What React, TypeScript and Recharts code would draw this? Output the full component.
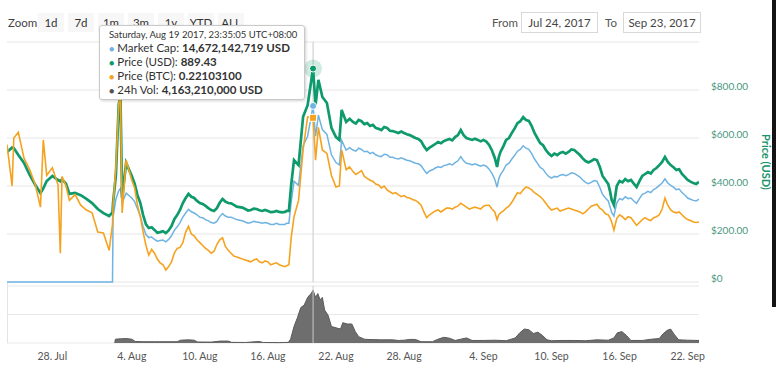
import React from 'react';
import {
  LineChart,
  Line,
  XAxis,
  YAxis,
  CartesianGrid,
  ReferenceLine,
  ReferenceDot,
  AreaChart,
  Area,
} from 'recharts';

// ---- data (x = days since Jul 24, 2017) ----
const days = [
  // launch period
  0, 0.45, 0.6, 1, 1.5, 2, 2.5, 2.95, 3.2, 3.5, 4, 4.5, 4.7, 4.85, 5.2, 5.5, 6, 6.5, 7, 7.5,
  8, 8.5, 9, 9.3, 9.35, 9.6, 9.85, 10, 10.15, 10.5,
  // August slump
  11, 11.25, 11.5, 11.75, 12, 12.25, 12.5, 12.75, 13, 13.25, 13.5, 13.75, 14, 14.25, 14.5, 14.75,
  15, 15.25, 15.5, 15.75, 16, 16.25, 16.5, 16.75, 17, 17.25, 17.5, 17.75, 18, 18.25, 18.5, 18.75,
  19, 19.25, 19.5, 19.75, 20, 20.25, 20.5, 20.75, 21, 21.25, 21.5, 21.75, 22, 22.25, 22.5, 22.75,
  23, 23.25, 23.5, 23.75, 24, 24.25, 24.5, 24.65, 24.85,
  // rally
  25.05, 25.3, 25.7, 26.1, 26.5, 26.98, 27.2, 27.45, 27.8, 28.2, 28.6, 29, 29.3, 29.5, 29.9,
  // September
  30.2, 30.5, 30.75, 31, 31.25, 31.5, 31.75, 32, 32.25, 32.5, 32.75, 33, 33.25, 33.5, 33.75, 34,
  34.25, 34.5, 34.75, 35, 35.25, 35.5, 35.75, 36, 36.25, 36.5, 36.75, 37, 37.25, 37.5, 37.75, 38,
  38.25, 38.5, 38.75, 39, 39.25, 39.5, 39.75, 40, 40.25, 40.5, 40.75, 41, 41.25, 41.5, 41.75, 42,
  42.25, 42.5, 42.75, 43, 43.2, 43.35, 43.5, 43.75, 44, 44.25, 44.5, 44.75, 45, 45.25, 45.5, 45.75,
  46, 46.25, 46.5, 46.75, 47, 47.25, 47.5, 47.75, 48, 48.25, 48.5, 48.75, 49, 49.25, 49.5, 49.75,
  50, 50.25, 50.5, 50.75, 51, 51.25, 51.5, 51.75, 52, 52.25, 52.5, 52.75, 53, 53.15, 53.3, 53.5,
  53.75, 54, 54.25, 54.5, 54.75, 55, 55.25, 55.5, 55.75, 56, 56.25, 56.5, 56.75, 57, 57.25, 57.5,
  57.75, 58, 58.25, 58.5, 58.75, 59, 59.25, 59.5, 59.75, 60, 60.25, 60.5, 60.75, 61,
];

const priceUsd = [
  542, 560, 558, 529, 496, 446, 404, 370, 390, 421, 442, 425, 420, 428, 410, 367, 371, 362, 346, 329,
  304, 287, 275, 290, 330, 446, 740, 775, 350, 496,
  442, 410, 362, 330, 279, 240, 225, 228, 217, 205, 208, 212, 204, 215, 233, 262,
  279, 300, 329, 350, 367, 355, 350, 338, 329, 325, 317, 308, 300, 296, 308, 330,
  346, 335, 329, 328, 321, 314, 312, 310, 304, 298, 300, 306, 304, 299, 296, 300,
  296, 291, 292, 296, 292, 290, 292, 296, 296,
  404, 508, 487, 688, 737, 889.43, 737, 842, 771, 746, 642, 604, 592, 717, 667,
  680, 667, 660, 675, 670, 658, 662, 650, 655, 642, 638, 633, 646, 642, 630, 629,
  625, 621, 627, 621, 616, 612, 606, 600, 596, 587, 566, 550, 560, 567, 575, 583,
  578, 587, 592, 596, 590, 604, 612, 633, 612, 600, 596, 592, 597, 592, 586, 592,
  585, 571, 548, 517, 479, 520, 542, 565, 592, 600, 621, 640, 662, 670, 687, 675,
  671, 650, 621, 600, 579, 570, 550, 535, 525, 535, 529, 538, 542, 535, 542, 552,
  550, 540, 529, 515, 504, 498, 504, 512, 508, 480, 442, 425, 408, 380, 342, 321,
  400, 421, 415, 429, 420, 425, 410, 396, 420, 442, 450, 458, 452, 467, 475, 487,
  500, 521, 500, 487, 478, 467, 470, 450, 438, 425, 418, 412, 408, 417,
];

const marketCapB = [
  0, 0, 0, 0, 0, 0, 0, 0, 0, 0, 0, 0, 0, 0, 0, 0, 0, 0, 0, 0,
  0, 0, 0, 0, 5.4, 6.9, 7.6, 7.8, 6.6, 7.4,
  7.0, 6.7, 6.1, 5.5, 4.6, 3.95, 3.7, 3.75, 3.55, 3.4, 3.45, 3.5, 3.35, 3.55, 3.85, 4.3,
  4.6, 4.95, 5.4, 5.75, 6.05, 5.85, 5.75, 5.6, 5.4, 5.35, 5.2, 5.1, 4.95, 4.9, 5.05, 5.45,
  5.7, 5.5, 5.4, 5.4, 5.3, 5.2, 5.15, 5.1, 5.0, 4.9, 4.95, 5.05, 5.0, 4.95, 4.9, 4.95,
  4.9, 4.8, 4.8, 4.9, 4.8, 4.8, 4.8, 4.9, 4.9,
  6.65, 8.4, 8.05, 11.35, 12.15, 14.672, 12.15, 13.9, 12.7, 12.3, 10.6, 9.95, 9.75, 11.8, 11.0,
  11.2, 11.0, 10.9, 11.15, 11.05, 10.85, 10.9, 10.7, 10.8, 10.6, 10.5, 10.45, 10.65, 10.6, 10.4, 10.4,
  10.3, 10.25, 10.35, 10.25, 10.15, 10.1, 10.0, 9.9, 9.85, 9.7, 9.35, 9.05, 9.25, 9.35, 9.5, 9.6,
  9.55, 9.7, 9.75, 9.85, 9.75, 9.95, 10.1, 10.45, 10.1, 9.9, 9.85, 9.75, 9.85, 9.75, 9.65, 9.75,
  9.65, 9.4, 9.05, 8.55, 7.9, 8.6, 8.95, 9.3, 9.75, 9.9, 10.25, 10.55, 10.9, 11.05, 11.35, 11.15,
  11.05, 10.7, 10.25, 9.9, 9.55, 9.4, 9.05, 8.8, 8.65, 8.8, 8.75, 8.9, 8.95, 8.85, 8.95, 9.1,
  9.05, 8.9, 8.75, 8.5, 8.3, 8.2, 8.3, 8.45, 8.4, 7.9, 7.3, 7.0, 6.75, 6.3, 5.8, 5.5,
  6.6, 6.95, 6.85, 7.1, 6.95, 7.0, 6.75, 6.55, 6.95, 7.3, 7.4, 7.55, 7.45, 7.7, 7.85, 8.05,
  8.25, 8.6, 8.25, 8.05, 7.9, 7.7, 7.75, 7.45, 7.25, 7.0, 6.9, 6.8, 6.75, 6.9,
];

const priceBtc = [
  0.193, 0.15, 0.2, 0.206, 0.179, 0.167, 0.151, 0.128, 0.198, 0.161, 0.169, 0.151, 0.08, 0.16, 0.15, 0.135, 0.141, 0.13, 0.125, 0.122,
  0.102, 0.101, 0.083, 0.11, 0.13, 0.17, 0.235, 0.246, 0.122, 0.177,
  0.156, 0.148, 0.13, 0.118, 0.102, 0.088, 0.078, 0.084, 0.08, 0.074, 0.07, 0.068, 0.0625, 0.066, 0.071, 0.08,
  0.085, 0.086, 0.091, 0.102, 0.108, 0.1, 0.098, 0.094, 0.091, 0.088, 0.085, 0.083, 0.08, 0.082, 0.089, 0.094,
  0.096, 0.087, 0.083, 0.08, 0.077, 0.076, 0.075, 0.074, 0.073, 0.072, 0.071, 0.073, 0.074, 0.071, 0.07, 0.072,
  0.071, 0.068, 0.069, 0.07, 0.068, 0.067, 0.066, 0.067, 0.068,
  0.096, 0.118, 0.135, 0.1875, 0.222, 0.221031, 0.177, 0.211, 0.1875, 0.184, 0.161, 0.149, 0.15, 0.1875, 0.167,
  0.17, 0.165, 0.162, 0.164, 0.166, 0.16, 0.158, 0.156, 0.155, 0.152, 0.151, 0.148, 0.15, 0.146, 0.144, 0.142,
  0.143, 0.141, 0.139, 0.14, 0.138, 0.1375, 0.136, 0.135, 0.133, 0.13, 0.123, 0.117, 0.12, 0.122, 0.124, 0.125,
  0.123, 0.125, 0.127, 0.127, 0.126, 0.128, 0.129, 0.132, 0.13, 0.128, 0.126, 0.127, 0.128, 0.127, 0.126, 0.129,
  0.13, 0.13, 0.126, 0.123, 0.115, 0.12, 0.122, 0.124, 0.127, 0.129, 0.133, 0.138, 0.143, 0.142, 0.146, 0.149,
  0.148, 0.146, 0.143, 0.141, 0.139, 0.136, 0.132, 0.128, 0.125, 0.126, 0.127, 0.124, 0.125, 0.126, 0.127, 0.126,
  0.125, 0.124, 0.123, 0.121, 0.123, 0.126, 0.129, 0.13, 0.131, 0.127, 0.125, 0.121, 0.12, 0.117, 0.1125, 0.104,
  0.116, 0.12, 0.118, 0.115, 0.118, 0.117, 0.113, 0.109, 0.112, 0.115, 0.117, 0.115, 0.114, 0.117, 0.118, 0.12,
  0.126, 0.1375, 0.13, 0.125, 0.123, 0.122, 0.123, 0.12, 0.117, 0.115, 0.114, 0.1125, 0.112, 0.1125,
];

const volDays = [
  9.5, 9.55, 10, 10.5, 11, 11.3, 12, 13, 14, 15,
  15.3, 16, 16.5, 16.8, 18, 18.8, 19.5, 19.8, 21, 22.2,
  22.6, 24, 24.8, 25, 25.3, 25.6, 25.9, 26.2, 26.5, 26.8,
  26.98, 27.2, 27.4, 27.6, 27.8, 28, 28.3, 28.6, 29, 29.4,
  29.6, 30, 30.4, 30.7, 31, 31.5, 32, 33, 34, 34.5,
  35, 35.5, 36, 36.5, 37, 37.5, 38, 38.5, 39, 39.5,
  40, 40.5, 41, 42, 43, 44, 44.8, 45.2, 45.6, 46,
  46.4, 46.8, 47.2, 47.6, 48, 49, 50, 51, 52, 53,
  53.5, 53.8, 54.2, 54.6, 55, 56, 56.8, 57.5, 57.8, 58.2,
  58.5, 58.8, 59.2, 60, 61,
];

const volumeB = [
  0, 0.3, 0.33, 0.35, 0.3, 0.12, 0.1, 0.1, 0.1, 0.1,
  0.22, 0.25, 0.22, 0.08, 0.07, 0.15, 0.15, 0.05, 0.04, 0.12,
  0.04, 0.03, 0.05, 0.3, 1.3, 2.0, 2.8, 3.0, 3.6, 3.9,
  4.16, 3.6, 3.9, 3.4, 3.6, 2.6, 2.2, 1.3, 1.2, 1.1,
  1.6, 1.5, 1.5, 0.9, 0.5, 0.3, 0.27, 0.25, 0.25, 0.2,
  0.22, 0.28, 0.28, 0.1, 0.1, 0.1, 0.3, 0.45, 0.38, 0.2,
  0.3, 0.4, 0.2, 0.2, 0.22, 0.18, 0.4, 0.8, 1.1, 1.05,
  0.75, 0.85, 0.6, 0.25, 0.18, 0.2, 0.2, 0.18, 0.25, 0.22,
  0.4, 0.8, 0.9, 0.6, 0.2, 0.2, 0.3, 0.35, 0.7, 1.0,
  1.1, 0.7, 0.25, 0.22, 0.2,
];

const tickDays = [4, 11, 17, 23, 29, 35, 42, 48, 54, 60];
const tickLabels = ['28. Jul', '4. Aug', '10. Aug', '16. Aug', '22. Aug', '28. Aug', '4. Sep', '10. Sep', '16. Sep', '22. Sep'];
const usdTicks = [0, 200, 400, 600, 800, 1000];
const volTicks = [0, 2.25];
const zoomButtons = ['1d', '7d', '1m', '3m', '1y', 'YTD', 'ALL'];
const hoverDay = 26.98;
const hoverUsd = 889.43;
const hoverCap = 14.672;
const hoverBtc = 0.221031;
const tooltipHeader = 'Saturday, Aug 19 2017, 23:35:05 UTC+08:00';
const tooltipLabels = ['Market Cap', 'Price (USD)', 'Price (BTC)', '24h Vol'];
const tooltipValues = ['14,672,142,719 USD', '889.43', '0.22103100', '4,163,210,000 USD'];
const fromDate = 'Jul 24, 2017';
const toDate = 'Sep 23, 2017';

// ---- styles ----
const FONT = '"Lato", "DejaVu Sans", sans-serif';
const GREEN = '#0e9a6c';
const BLUE = '#6fb3e2';
const ORANGE = '#f5a31f';
const VOLGRAY = '#6e6e6e';
const seriesColors = [BLUE, GREEN, ORANGE, '#555'];

const rows = days.map((t, i) => ({
  t,
  usd: priceUsd[i],
  cap: marketCapB[i],
  btc: priceBtc[i],
}));
const volRows = volDays.map((t, i) => ({ t, vol: volumeB[i] }));

const UsdTick = (props: any) => {
  const { x, y, payload } = props;
  const v = payload.value as number;
  if (v >= 1000) return <g />;
  const label = v === 0 ? '$0' : '$' + v.toFixed(2);
  return (
    <text x={x} y={y - 4} fill="#4a977e" fontSize={10} fontFamily={FONT} textAnchor="start" dominantBaseline="central">
      {label}
    </text>
  );
};

const SquareDot = (props: any) => {
  const { cx, cy } = props;
  return <rect x={cx - 3.5} y={cy - 3.5} width={7} height={7} fill={ORANGE} stroke="#fff" strokeWidth={1} />;
};

export default function App() {
  return (
    <div
      style={{
        position: 'absolute',
        left: 0,
        top: 0,
        width: 776,
        height: 369,
        background: '#fff',
        overflow: 'hidden',
        fontFamily: FONT,
      }}
    >
      {/* range selector */}
      <div style={{ position: 'absolute', left: 8, top: 16, fontSize: 11.5, color: '#444' }}>Zoom</div>
      {zoomButtons.map((b, i) => (
        <div
          key={b}
          style={{
            position: 'absolute',
            left: 38 + i * 30,
            top: 13,
            width: 26,
            height: 19,
            background: '#f7f7f7',
            fontSize: 11.5,
            color: '#333',
            textAlign: 'center',
            lineHeight: '19px',
          }}
        >
          {b}
        </div>
      ))}
      <div style={{ position: 'absolute', left: 492, top: 16, fontSize: 11.5, color: '#555' }}>From</div>
      <div
        style={{
          position: 'absolute',
          left: 521,
          top: 12,
          width: 75,
          height: 19,
          border: '1px solid #d8d8d8',
          fontSize: 11.5,
          color: '#444',
          textAlign: 'center',
          lineHeight: '19px',
        }}
      >
        {fromDate}
      </div>
      <div style={{ position: 'absolute', left: 605, top: 16, fontSize: 11.5, color: '#555' }}>To</div>
      <div
        style={{
          position: 'absolute',
          left: 623,
          top: 12,
          width: 76,
          height: 19,
          border: '1px solid #d8d8d8',
          fontSize: 11.5,
          color: '#444',
          textAlign: 'center',
          lineHeight: '19px',
        }}
      >
        {toDate}
      </div>

      {/* left border of the volume pane */}
      <div style={{ position: 'absolute', left: 7, top: 283, width: 1, height: 60, background: '#e4e4e4' }} />

      {/* volume panel + x axis */}
      <div style={{ position: 'absolute', left: 0, top: 0 }}>
        <AreaChart width={776} height={369} data={volRows} margin={{ top: 286, right: 77, bottom: 6, left: 7 }}>
          <CartesianGrid yAxisId="vol" horizontal vertical={false} stroke="#e8e8e8" />
          <XAxis
            dataKey="t"
            type="number"
            domain={[0, 61]}
            ticks={tickDays}
            tickFormatter={(v: number) => tickLabels[tickDays.indexOf(v)] ?? ''}
            tickLine={false}
            axisLine={false}
            height={20}
            tickMargin={4}
            tick={{ fill: '#555', fontSize: 10.5, fontFamily: FONT }}
            interval={0}
            allowDataOverflow
          />
          <YAxis yAxisId="vol" hide domain={[0, 4.5]} ticks={volTicks} />
          <Area
            yAxisId="vol"
            type="linear"
            dataKey="vol"
            stroke="#5a5a5a"
            strokeWidth={1}
            fill={VOLGRAY}
            fillOpacity={1}
            isAnimationActive={false}
            dot={false}
            activeDot={false}
          />
          <ReferenceLine yAxisId="vol" x={hoverDay} stroke="#c8c8c8" strokeWidth={1} />
        </AreaChart>
      </div>

      {/* price panel */}
      <div style={{ position: 'absolute', left: 0, top: 0 }}>
        <LineChart width={776} height={300} data={rows} margin={{ top: 42, right: 0, bottom: 18, left: 7 }}>
          <CartesianGrid yAxisId="usd" horizontal vertical={false} stroke="#e6e6e6" />
          <XAxis dataKey="t" type="number" domain={[0, 61]} hide allowDataOverflow />
          <YAxis
            yAxisId="usd"
            orientation="right"
            domain={[0, 1000]}
            ticks={usdTicks}
            width={77}
            axisLine={false}
            tickLine={false}
            tickMargin={6}
            tick={<UsdTick />}
            interval={0}
          />
          <YAxis yAxisId="cap" hide domain={[0, 20]} />
          <YAxis yAxisId="btc" hide domain={[0.05, 0.3]} allowDataOverflow />
          <ReferenceLine yAxisId="usd" x={hoverDay} stroke="#c8c8c8" strokeWidth={1} />
          <Line yAxisId="cap" type="linear" dataKey="cap" stroke={BLUE} strokeWidth={1.5} dot={false} activeDot={false} isAnimationActive={false} />
          <Line yAxisId="usd" type="linear" dataKey="usd" stroke={GREEN} strokeWidth={2.7} dot={false} activeDot={false} isAnimationActive={false} />
          <Line yAxisId="btc" type="linear" dataKey="btc" stroke={ORANGE} strokeWidth={1.6} dot={false} activeDot={false} isAnimationActive={false} />
          <ReferenceDot yAxisId="usd" x={hoverDay} y={hoverUsd} r={9} fill={GREEN} fillOpacity={0.2} stroke="none" />
          <ReferenceDot yAxisId="usd" x={hoverDay} y={hoverUsd} r={3.5} fill={GREEN} stroke="#fff" strokeWidth={1} />
          <ReferenceDot yAxisId="cap" x={hoverDay} y={hoverCap} r={3.5} fill={BLUE} stroke="#fff" strokeWidth={1} />
          <ReferenceDot yAxisId="btc" x={hoverDay} y={hoverBtc} r={4} fill={ORANGE} shape={<SquareDot />} />
        </LineChart>
      </div>

      {/* axis title */}
      <div
        style={{
          position: 'absolute',
          left: 766,
          top: 162,
          transform: 'translate(-50%, -50%) rotate(90deg)',
          whiteSpace: 'nowrap',
          fontSize: 11,
          fontWeight: 'bold',
          color: '#17946a',
        }}
      >
        Price (USD)
      </div>

      {/* right edge dark strip of the screenshot */}
      <div style={{ position: 'absolute', left: 772, top: 0, width: 4, height: 307, background: '#141414' }} />

      {/* tooltip */}
      <div
        style={{
          position: 'absolute',
          left: 99,
          top: 25,
          width: 206,
          height: 75,
          boxSizing: 'border-box',
          background: 'rgba(255,255,255,0.96)',
          border: '1px solid #c9c9c9',
          borderRadius: 3,
          boxShadow: '1px 1px 3px rgba(0,0,0,0.18)',
          padding: '3px 0 0 9px',
          color: '#333',
        }}
      >
        <div style={{ fontSize: 9.5, lineHeight: '12px', whiteSpace: 'nowrap' }}>{tooltipHeader}</div>
        {tooltipLabels.map((lab, i) => (
          <div key={lab} style={{ fontSize: 11.5, lineHeight: '13px', whiteSpace: 'nowrap' }}>
            <span style={{ color: seriesColors[i], fontSize: 9 }}>●</span> {lab}:{' '}
            <b>{tooltipValues[i]}</b>
          </div>
        ))}
      </div>
    </div>
  );
}
